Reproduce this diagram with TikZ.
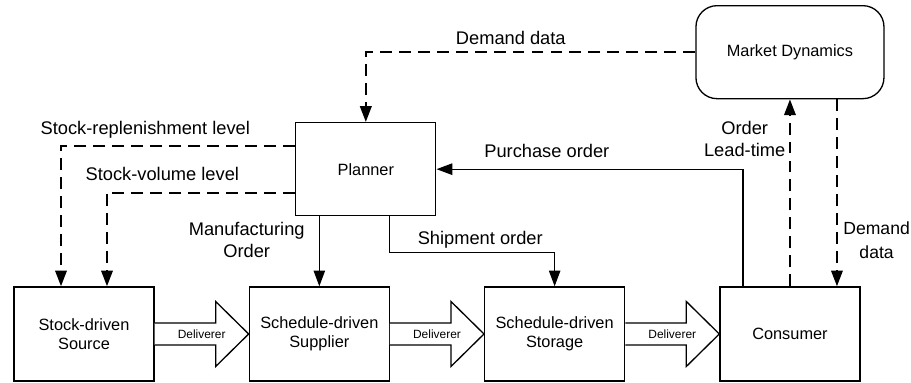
\documentclass[tikz,border=0pt]{standalone}
\usepackage{fontspec}
\setmainfont{Liberation Sans}
\usetikzlibrary{positioning,arrows.meta}

\begin{document}
\begin{tikzpicture}[>={Triangle[length=9pt,width=6.5pt]},
  box/.style={draw, line width=0.75pt, minimum width=2.8cm, minimum height=1.88cm, inner sep=0pt, align=center, font=\fontsize{9.3}{10.8}\selectfont},
  lbl/.style={inner sep=2pt, align=center, font=\fontsize{10.4}{12.5}\selectfont},
  info/.style={line width=1.3pt, dash pattern=on 6.8pt off 4pt},
  order/.style={line width=0.75pt},
  deliver/.style={draw, line width=0.75pt, fill=white},
  dlbl/.style={inner sep=0pt, font=\fontsize{6.8}{8}\selectfont}]
\useasboundingbox (0,0) rectangle (18.22,7.66);
\node[box] (source) at (1.68,0.98) {Stock-driven\\ Source};
\node[box, right=1.88cm of source] (supplier) {Schedule-driven\\ Supplier};
\node[box, right=1.88cm of supplier] (storage) {Schedule-driven\\ Storage};
\node[box, right=1.88cm of storage] (consumer) {Consumer};
\node[box, above=1.4cm of supplier, xshift=0.93cm, minimum height=1.86cm] (planner) {Planner};
\node[box, above=3.74cm of consumer, minimum width=3.76cm, minimum height=1.86cm, rounded corners=12pt] (market) {Market Dynamics};
% material flow between the stages
\foreach \a/\b in {source/supplier, supplier/storage, storage/consumer}{
  \draw[deliver] (\a.east) ++(0,0.22) -- ++(1.22,0) -- ++(0,0.43) -- (\b.west) -- ++(-0.66,-0.65) -- ++(0,0.43) -- ++(-1.22,0);
  \path (\a.east) -- node[dlbl] (\a-dl) {Deliverer} (\b.west);
}
% information flow
\draw[info,->] (market.west) -| node[lbl, pos=0.28, above=1.4pt] (demandlbl) {Demand data} (planner.north);
\draw[info,->] ([yshift=0.47cm]planner.west) -| node[lbl, pos=0.32, above=1.5pt] (replenishlbl) {Stock-replenishment level} ([xshift=-0.46cm]source.north);
\draw[info,->] ([yshift=-0.47cm]planner.west) -| node[lbl, pos=0.353, above=4.3pt] (volumelbl) {Stock-volume level} ([xshift=0.46cm]source.north);
\draw[info,->] (consumer.north) -- node[lbl, pos=0.786, left=0pt] (leadlbl) {Order\\ Lead-time} (market.south);
\draw[info,->] ([xshift=0.94cm]market.south) -- node[lbl, pos=0.754, right=1pt, font=\fontsize{10}{13.5}\selectfont] (marketlbl) {Demand\\ data} ([xshift=0.94cm]consumer.north);
% orders
\draw[order,->] (planner.south -| supplier.north) -- node[lbl, pos=0.34, left=6pt] (manulbl) {Manufacturing\\ Order} (supplier.north);
\draw[order,->] ([xshift=0.47cm]planner.south) -- ++(0,-0.72) -| node[lbl, pos=0.275, above=0pt] (shiplbl) {Shipment order} (storage.north);
\draw[order,->] ([xshift=-0.94cm]consumer.north) |- node[lbl, pos=0.82, above=4.3pt] (purchaselbl) {Purchase order} (planner.east);
\end{tikzpicture}
\end{document}
